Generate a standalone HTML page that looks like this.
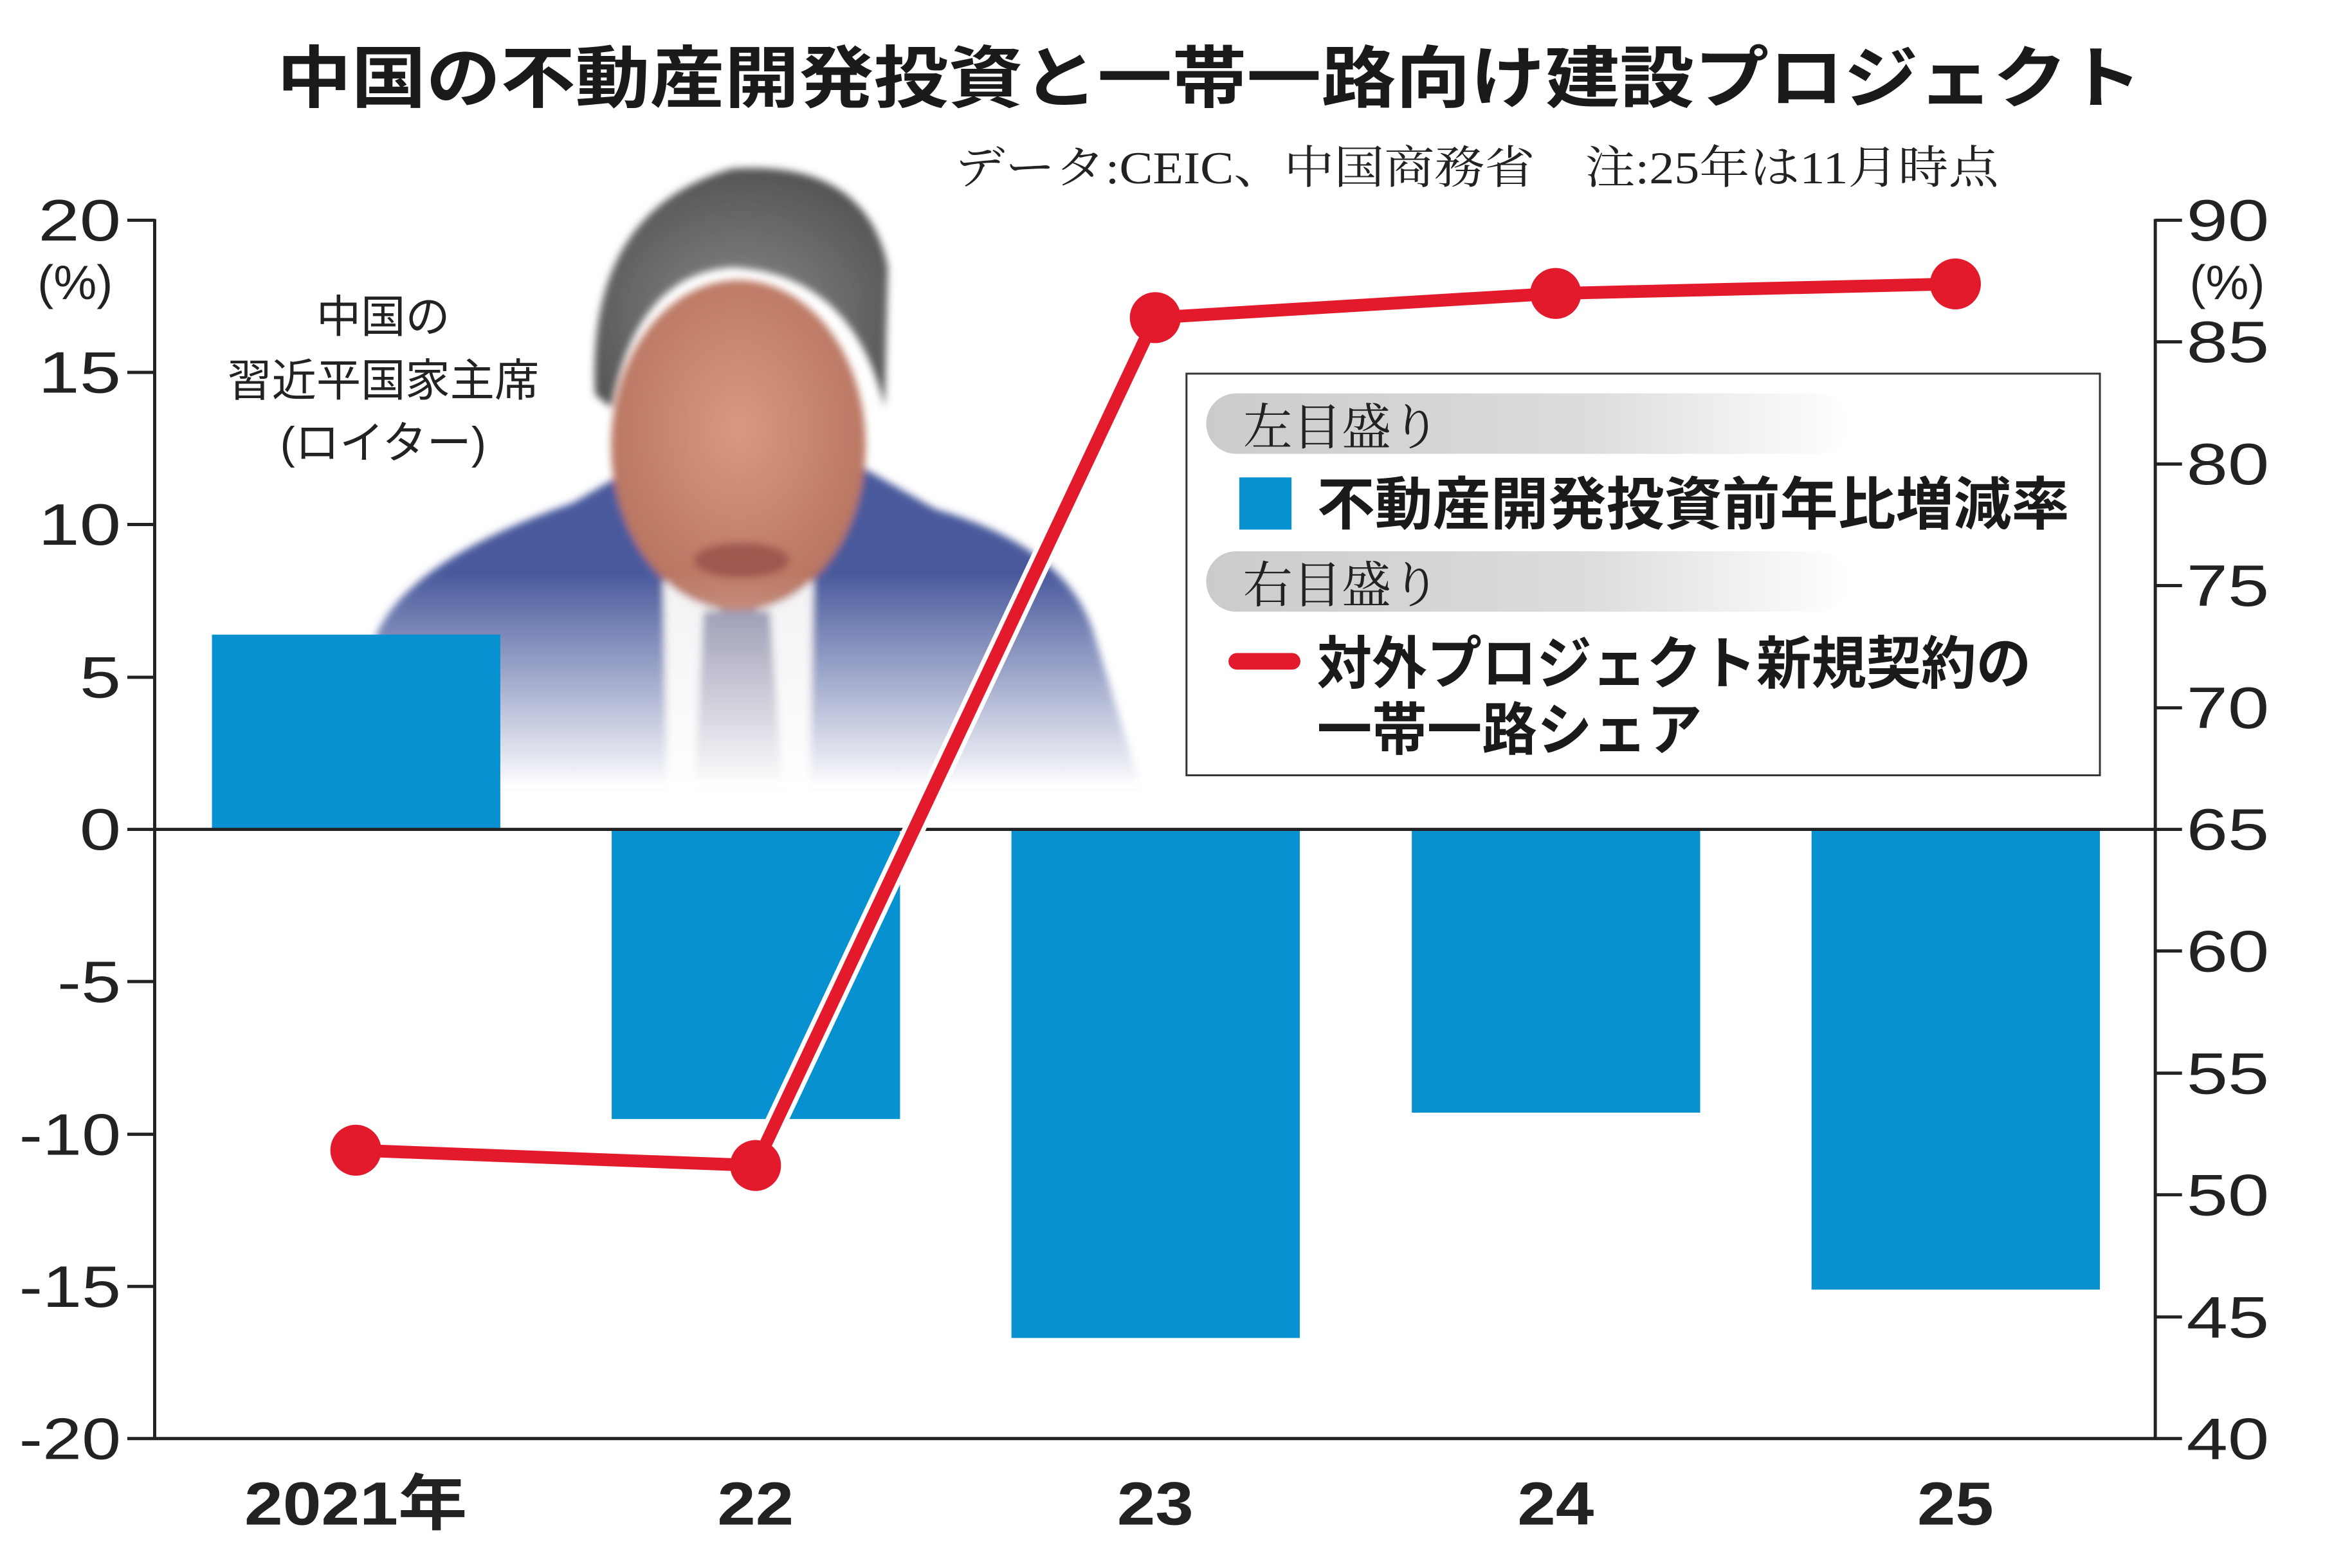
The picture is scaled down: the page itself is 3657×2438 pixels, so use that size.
<!DOCTYPE html>
<html><head><meta charset="utf-8"><style>html,body{margin:0;padding:0;background:#fff}svg{display:block}</style></head><body>
<svg xmlns="http://www.w3.org/2000/svg" width="3657" height="2438" viewBox="0 0 3657 2438">
<defs>
<linearGradient id="pill" x1="0" x2="1" y1="0" y2="0"><stop offset="0" stop-color="#c9cbcd"/><stop offset="0.6" stop-color="#dcdddf"/><stop offset="1" stop-color="#ffffff"/></linearGradient>
<linearGradient id="fade" x1="0" x2="0" y1="0" y2="1"><stop offset="0" stop-color="#fff" stop-opacity="0"/><stop offset="1" stop-color="#fff" stop-opacity="1"/></linearGradient>
<radialGradient id="face" cx="0.5" cy="0.45" r="0.55"><stop offset="0" stop-color="#d89a80"/><stop offset="1" stop-color="#b77460"/></radialGradient>
<radialGradient id="hair" cx="0.5" cy="0.6" r="0.6"><stop offset="0" stop-color="#888"/><stop offset="1" stop-color="#555"/></radialGradient>
<filter id="bl"><feGaussianBlur stdDeviation="6"/></filter>
</defs>
<g transform="scale(0.9897)" font-family="'Liberation Sans','Noto Sans CJK JP',sans-serif">
<!-- title -->
<text x="1900" y="160" font-size="106" font-weight="bold" text-anchor="middle" textLength="2930" lengthAdjust="spacingAndGlyphs" fill="#1a1a1a">中国の不動産開発投資と一帯一路向け建設プロジェクト</text>
<text x="1500" y="288" font-size="72" font-family="'Liberation Serif','Noto Serif CJK SC',serif" textLength="1640" lengthAdjust="spacingAndGlyphs" fill="#222">データ:CEIC、中国商務省　注:25年は11月時点</text>

<!-- photo -->
<g filter="url(#bl)">
<path d="M590 1000 Q640 880 900 790 L1020 720 L1330 720 L1470 800 Q1680 860 1720 1000 L1790 1230 L600 1230 Z" fill="#4a5a9c"/>
<path d="M1040 820 L1160 1000 L1280 820 L1270 1230 L1050 1230 Z" fill="#f2f2f4"/>
<path d="M1105 960 L1210 960 L1230 1230 L1090 1230 Z" fill="#8a8aa8"/>
<ellipse cx="1160" cy="700" rx="200" ry="260" fill="url(#face)"/>
<path d="M935 620 Q920 330 1150 265 Q1360 250 1395 420 L1390 640 Q1340 430 1150 420 Q1000 430 960 640 Z" fill="url(#hair)"/>
<ellipse cx="1165" cy="880" rx="75" ry="28" fill="#8a4040" opacity="0.6"/>
</g>
<rect x="560" y="900" width="1300" height="340" fill="url(#fade)"/>

<!-- caption -->
<g font-size="70" text-anchor="middle" fill="#222">
<text x="602" y="522">中国の</text>
<text x="602" y="622">習近平国家主席</text>
<text x="602" y="720">(ロイター)</text>
</g>

<!-- bars -->
<g fill="#0891d1">
<rect x="333" y="997" width="453" height="306"/>
<rect x="961" y="1303" width="453" height="455"/>
<rect x="1589" y="1303" width="453" height="799"/>
<rect x="2218" y="1303" width="453" height="445"/>
<rect x="2846" y="1303" width="453" height="723"/>
</g>

<!-- axes -->
<g stroke="#222" stroke-width="5" fill="none">
<line x1="243" y1="344" x2="243" y2="2262"/>
<line x1="3386" y1="344" x2="3386" y2="2262"/>
<line x1="243" y1="1303" x2="3386" y2="1303"/>
<line x1="243" y1="2260" x2="3386" y2="2260"/>
<path d="M200 346H243M200 585H243M200 824H243M200 1064H243M200 1303H243M200 1542H243M200 1782H243M200 2021H243M200 2260H243"/>
<path d="M3386 346H3428M3386 537H3428M3386 729H3428M3386 920H3428M3386 1112H3428M3386 1303H3428M3386 1494H3428M3386 1686H3428M3386 1877H3428M3386 2069H3428M3386 2260H3428"/>
</g>
<g font-size="92" fill="#222" text-anchor="end">
<text x="190" y="378" textLength="130" lengthAdjust="spacingAndGlyphs">20</text>
<text x="190" y="617" textLength="130" lengthAdjust="spacingAndGlyphs">15</text>
<text x="190" y="856" textLength="130" lengthAdjust="spacingAndGlyphs">10</text>
<text x="190" y="1096" textLength="65" lengthAdjust="spacingAndGlyphs">5</text>
<text x="190" y="1335" textLength="65" lengthAdjust="spacingAndGlyphs">0</text>
<text x="190" y="1574" textLength="100" lengthAdjust="spacingAndGlyphs">-5</text>
<text x="190" y="1814" textLength="160" lengthAdjust="spacingAndGlyphs">-10</text>
<text x="190" y="2053" textLength="160" lengthAdjust="spacingAndGlyphs">-15</text>
<text x="190" y="2292" textLength="160" lengthAdjust="spacingAndGlyphs">-20</text>
</g>
<text x="118" y="470" font-size="76" text-anchor="middle" fill="#222">(%)</text>
<g font-size="92" fill="#222">
<text x="3435" y="378" textLength="130" lengthAdjust="spacingAndGlyphs">90</text>
<text x="3435" y="569" textLength="130" lengthAdjust="spacingAndGlyphs">85</text>
<text x="3435" y="761" textLength="130" lengthAdjust="spacingAndGlyphs">80</text>
<text x="3435" y="952" textLength="130" lengthAdjust="spacingAndGlyphs">75</text>
<text x="3435" y="1144" textLength="130" lengthAdjust="spacingAndGlyphs">70</text>
<text x="3435" y="1335" textLength="130" lengthAdjust="spacingAndGlyphs">65</text>
<text x="3435" y="1526" textLength="130" lengthAdjust="spacingAndGlyphs">60</text>
<text x="3435" y="1718" textLength="130" lengthAdjust="spacingAndGlyphs">55</text>
<text x="3435" y="1909" textLength="130" lengthAdjust="spacingAndGlyphs">50</text>
<text x="3435" y="2101" textLength="130" lengthAdjust="spacingAndGlyphs">45</text>
<text x="3435" y="2292" textLength="130" lengthAdjust="spacingAndGlyphs">40</text>
</g>
<text x="3499" y="470" font-size="76" text-anchor="middle" fill="#222">(%)</text>

<!-- x labels -->
<g font-size="96" font-weight="bold" fill="#222" text-anchor="middle">
<text x="559" y="2395" textLength="350" lengthAdjust="spacingAndGlyphs">2021年</text>
<text x="1187" y="2395" textLength="120" lengthAdjust="spacingAndGlyphs">22</text>
<text x="1815" y="2395" textLength="120" lengthAdjust="spacingAndGlyphs">23</text>
<text x="2444" y="2395" textLength="120" lengthAdjust="spacingAndGlyphs">24</text>
<text x="3072" y="2395" textLength="120" lengthAdjust="spacingAndGlyphs">25</text>
</g>

<!-- line -->
<polyline points="559,1807 1187,1831 1815,499 2444,461 3072,446" fill="none" stroke="#fff" stroke-width="34" stroke-linejoin="round"/>
<polyline points="559,1807 1187,1831 1815,499 2444,461 3072,446" fill="none" stroke="#e21a2c" stroke-width="20" stroke-linejoin="round"/>
<g fill="#e21a2c">
<circle cx="559" cy="1807" r="40"/><circle cx="1187" cy="1831" r="40"/><circle cx="1815" cy="499" r="40"/><circle cx="2444" cy="461" r="40"/><circle cx="3072" cy="446" r="40"/>
</g>

<!-- legend -->
<rect x="1864" y="587" width="1435" height="631" fill="#fff" stroke="#333" stroke-width="3"/>
<rect x="1895" y="618" width="1010" height="95" rx="47" fill="url(#pill)"/>
<rect x="1895" y="866" width="1010" height="95" rx="47" fill="url(#pill)"/>
<text x="1953" y="698" font-size="78" font-family="'Liberation Serif','Noto Serif CJK SC',serif" fill="#222" textLength="310" lengthAdjust="spacingAndGlyphs">左目盛り</text>
<text x="1953" y="946" font-size="78" font-family="'Liberation Serif','Noto Serif CJK SC',serif" fill="#222" textLength="310" lengthAdjust="spacingAndGlyphs">右目盛り</text>
<rect x="1947" y="750" width="82" height="82" fill="#0891d1"/>
<text x="2069" y="824" font-size="90" font-weight="bold" fill="#1a1a1a" textLength="1182" lengthAdjust="spacingAndGlyphs">不動産開発投資前年比増減率</text>
<rect x="1930" y="1026" width="113" height="26" rx="13" fill="#e21a2c"/>
<text x="2069" y="1074" font-size="90" font-weight="bold" fill="#1a1a1a" textLength="1122" lengthAdjust="spacingAndGlyphs">対外プロジェクト新規契約の</text>
<text x="2069" y="1178" font-size="90" font-weight="bold" fill="#1a1a1a" textLength="605" lengthAdjust="spacingAndGlyphs">一帯一路シェア</text>
</g>
</svg>
</body></html>
